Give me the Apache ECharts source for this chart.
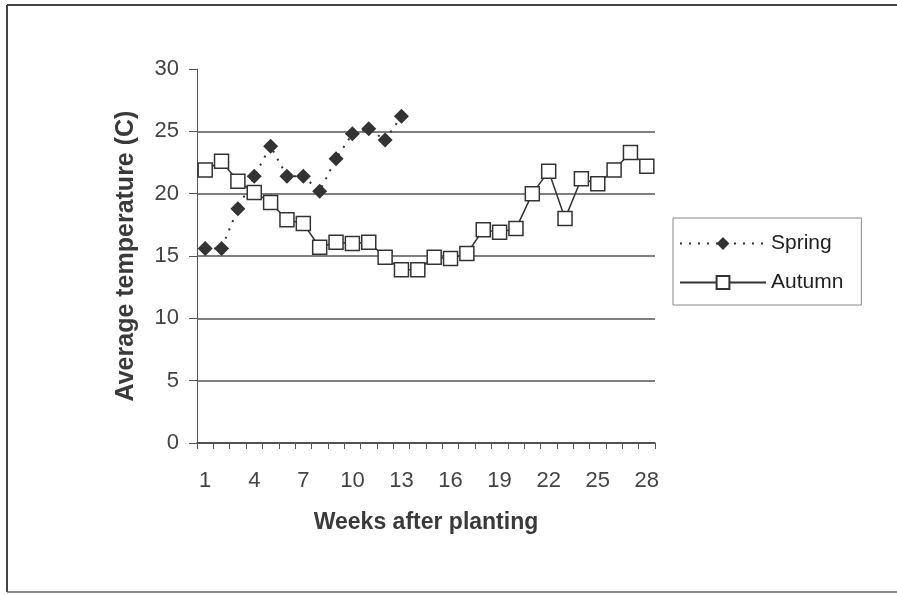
<!DOCTYPE html>
<html>
<head>
<meta charset="utf-8">
<script src="https://cdn.jsdelivr.net/npm/echarts@6/dist/echarts.min.js"></script>
<style>
    html, body { margin: 0; padding: 0; background: #fff; }
    #chart { width: 897px; height: 595px; }
</style>
</head>
<body>
<div id="chart"></div>
<script>
// weeks after planting
const weeks = ['1', '2', '3', '4', '5', '6', '7', '8', '9', '10', '11', '12', '13', '14',
    '15', '16', '17', '18', '19', '20', '21', '22', '23', '24', '25', '26', '27', '28'];

// average temperature (C)
const spring = [15.6, 15.6, 18.8, 21.4, 23.8, 21.4, 21.4, 20.2, 22.8, 24.8, 25.2, 24.3, 26.2];
const autumn = [21.9, 22.6, 21.0, 20.1, 19.3, 17.9, 17.6, 15.7, 16.1, 16.0, 16.1, 14.9, 13.9, 13.9,
    14.9, 14.8, 15.2, 17.1, 16.9, 17.2, 20.0, 21.8, 18.0, 21.2, 20.8, 21.9, 23.3, 22.2];

const fontFamily = '"Liberation Sans", Arial, sans-serif';
const ink = '#333';

let chart = echarts.init(document.getElementById('chart'));

chart.setOption({
    backgroundColor: '#fff',
    animation: false,
    textStyle: { fontFamily: fontFamily },
    graphic: [
        // outer frame
        { type: 'line', shape: { x1: 7, y1: 5, x2: 897, y2: 5 }, style: { stroke: '#444', lineWidth: 2 } },
        { type: 'line', shape: { x1: 7, y1: 5, x2: 7, y2: 592 }, style: { stroke: '#444', lineWidth: 2 } },
        { type: 'line', shape: { x1: 7, y1: 592, x2: 897, y2: 592 }, style: { stroke: '#666', lineWidth: 1.5 } }
    ],
    legend: {
        orient: 'vertical',
        left: 673,
        top: 218,
        padding: [15, 18, 12, 6],
        borderColor: '#888',
        borderWidth: 1,
        itemWidth: 86,
        itemHeight: 16,
        itemGap: 18,
        textStyle: { fontSize: 21, color: '#222', fontFamily: fontFamily },
        data: ['Spring', 'Autumn']
    },
    grid: {
        left: 197,
        right: 242,
        top: 69,
        bottom: 152
    },
    xAxis: {
        type: 'category',
        data: weeks,
        boundaryGap: true,
        name: 'Weeks after planting',
        nameLocation: 'middle',
        nameGap: 68,
        nameTextStyle: { fontSize: 23, fontWeight: 'bold', color: '#3a3a3a' },
        axisLine: { lineStyle: { color: '#444', width: 1.5 } },
        axisTick: { show: true, interval: 0, length: 6, lineStyle: { color: '#555' } },
        axisLabel: { interval: 2, margin: 27, fontSize: 22, color: '#444' },
        splitLine: { show: false }
    },
    yAxis: {
        type: 'value',
        min: 0,
        max: 30,
        interval: 5,
        name: 'Average temperature (C)',
        nameLocation: 'middle',
        nameGap: 58,
        nameTextStyle: { fontSize: 25, fontWeight: 'bold', color: '#3a3a3a' },
        axisLine: { show: true, lineStyle: { color: '#555', width: 1 } },
        axisTick: { show: true, length: 8, lineStyle: { color: '#555' } },
        axisLabel: { margin: 18, fontSize: 22, color: '#444' },
        splitLine: {
            show: true,
            lineStyle: {
                color: ['#555', '#555', '#555', '#555', '#555', '#555', 'rgba(0,0,0,0)'],
                width: 1.5
            }
        }
    },
    series: [
        {
            name: 'Spring',
            type: 'line',
            data: spring,
            showAllSymbol: true,
            symbol: 'diamond',
            symbolSize: 15,
            itemStyle: { color: ink },
            lineStyle: { color: ink, width: 2, type: [2, 7] }
        },
        {
            name: 'Autumn',
            type: 'line',
            data: autumn,
            showAllSymbol: true,
            symbol: 'rect',
            symbolSize: 14,
            itemStyle: { color: '#fff', borderColor: ink, borderWidth: 1.5 },
            lineStyle: { color: ink, width: 1.5 }
        }
    ]
});
</script>
</body>
</html>
